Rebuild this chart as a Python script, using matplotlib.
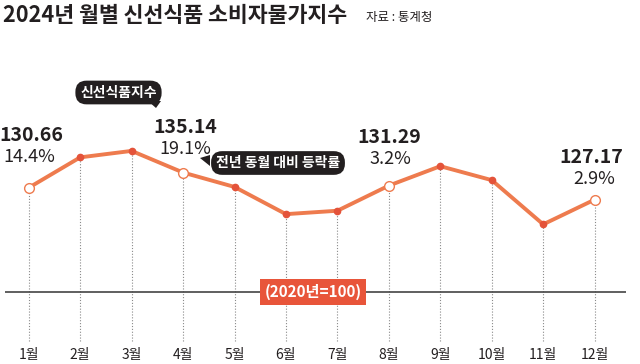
import matplotlib
matplotlib.use("Agg")
import matplotlib.pyplot as plt
from matplotlib.patches import Polygon

plt.rcParams['font.family'] = ['Noto Sans CJK KR', 'DejaVu Sans']

# ---- data ----
months = list(range(1, 13))
month_labels = [f"{m}월" for m in months]
index_values = [130.66, 139.6, 141.5, 135.14, 130.9, 122.9, 123.9, 131.29, 137.0, 132.9, 119.9, 127.17]
labeled_months = [1, 4, 8, 12]
labeled_values = ["130.66", "135.14", "131.29", "127.17"]
labeled_changes = ["14.4%", "19.1%", "3.2%", "2.9%"]
base_value = 100

title = "2024년 월별 신선식품 소비자물가지수"
source = "자료 : 통계청"
series_tag = "신선식품지수"
change_tag = "전년 동월 대비 등락률"
base_tag = "(2020년=100)"

# ---- style ----
LINE = "#EE7B4E"
DOT = "#E4533A"
DARK = "#231F20"
BOX = "#E8553A"
W, H = 640, 364

fig = plt.figure(figsize=(6.4, 3.64), dpi=100)
ax = fig.add_axes([0, 0, 1, 1])
ax.axis('off')
px_month = 51.45
px_unit = 3.40
x0_px, base_px = 28.7, 292
ax.set_xlim(1 - x0_px / px_month, 1 + (W - x0_px) / px_month)
ax.set_ylim(base_value - (H - base_px) / px_unit, base_value + base_px / px_unit)

def fx(x):
    return x / W
def fy(y):
    return 1 - y / H

bottom_val = base_value - (341 - base_px) / px_unit
# dotted drop lines
ax.vlines(months, bottom_val, index_values, colors="#8a8a8a", linewidth=0.8,
          linestyles=(0, (1, 1.6)), zorder=1)
# baseline
ax.hlines(base_value, 1 - (x0_px - 5) / px_month, 1 + (626 - x0_px) / px_month,
          colors="#444444", linewidth=1.2, zorder=2)
# line
ax.plot(months, index_values, color=LINE, linewidth=2.8, zorder=3, solid_joinstyle='round')
filled = [m for m in months if m not in labeled_months]
ax.plot(filled, [index_values[m - 1] for m in filled], 'o', color=DOT, markersize=4.5, zorder=4)
ax.plot(labeled_months, [index_values[m - 1] for m in labeled_months], 'o',
        markerfacecolor='white', markeredgecolor=LINE, markeredgewidth=1.0,
        markersize=7, zorder=5)

# value labels
val_off = [(3, 52), (2, 45), (0, 48), (-3, 42)]
pct_off = [(1, 31), (2, 24), (2, 27), (0, 21)]
for m, v, c, vo, po in zip(labeled_months, labeled_values, labeled_changes, val_off, pct_off):
    y = index_values[m - 1]
    ax.annotate(v, (m, y), xytext=vo, textcoords='offset pixels', ha='center', va='center',
                fontsize=14, fontweight='bold', color=DARK, zorder=6)
    ax.annotate(c, (m, y), xytext=po, textcoords='offset pixels', ha='center', va='center',
                fontsize=13, fontweight='light', color=DARK, zorder=6)

# month labels
for m, lab in zip(months, month_labels):
    ax.text(m, fy(355), lab, transform=ax.get_xaxis_transform(), ha='center', va='center',
            fontsize=10, color=DARK)

# base tag
ax.text(fx(313), fy(292), base_tag, transform=fig.transFigure, ha='center', va='center',
        fontsize=11, fontweight='bold', color='white', zorder=7,
        bbox=dict(boxstyle='square,pad=0.3', facecolor=BOX, edgecolor='none'))

# title & source
fig.text(fx(3), fy(16), title, ha='left', va='center', fontsize=15.6, fontweight='bold', color=DARK)
fig.text(fx(366), fy(17), source, ha='left', va='center', fontsize=9, color=DARK)

# callout: series tag
fig.text(fx(118.5), fy(92.5), series_tag, ha='center', va='center', fontsize=10,
         fontweight='bold', color='white', zorder=8,
         bbox=dict(boxstyle='round,pad=0.35,rounding_size=0.8', facecolor=DARK, edgecolor='none'))
fig.patches.append(Polygon([(fx(148), fy(101)), (fx(161), fy(101)), (fx(156), fy(108))],
                           closed=True, transform=fig.transFigure, facecolor=DARK,
                           edgecolor='none', zorder=8))
# callout: change tag
fig.text(fx(278), fy(163), change_tag, ha='center', va='center', fontsize=10,
         fontweight='bold', color='white', zorder=8,
         bbox=dict(boxstyle='round,pad=0.35,rounding_size=0.8', facecolor=DARK, edgecolor='none'))
fig.patches.append(Polygon([(fx(210), fy(155)), (fx(210), fy(166)), (fx(200), fy(158))],
                           closed=True, transform=fig.transFigure, facecolor=DARK,
                           edgecolor='none', zorder=8))

fig.savefig("out.png", dpi=100, facecolor='white')
